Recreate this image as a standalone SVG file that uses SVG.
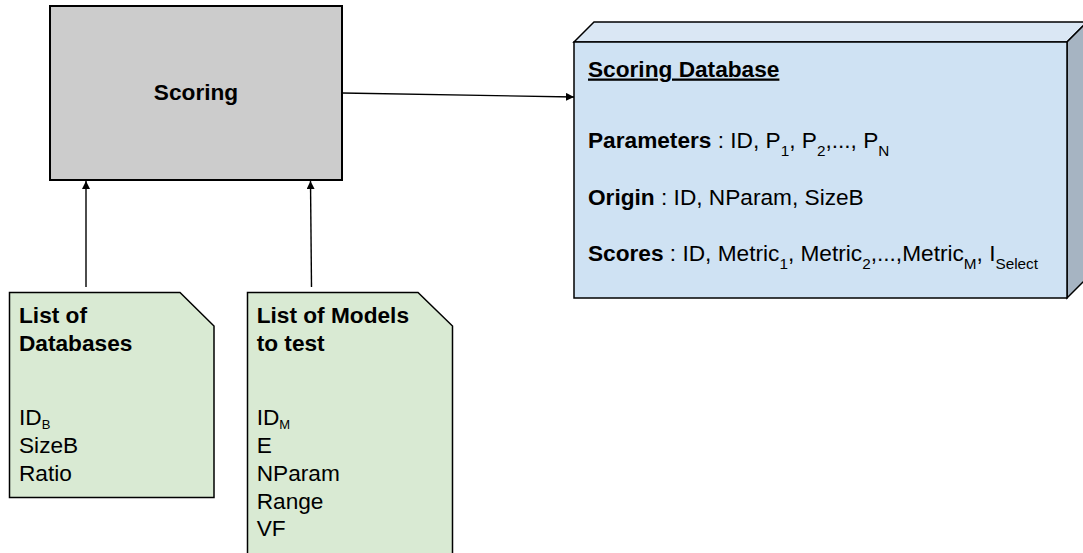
<svg xmlns="http://www.w3.org/2000/svg" width="1083" height="553" viewBox="0 0 1083 553">
<style>
text{font-family:"Liberation Sans",Arial,sans-serif;font-size:22.67px;fill:#000}
.b{font-weight:bold}
.sub{font-size:15.3px}
.sub2{font-size:13px}
.edge{stroke:#000;stroke-width:1.4;fill:none}
.doc{fill:#d9ead3;stroke:#000;stroke-width:1.5}
</style>
<defs>
<marker id="ah" viewBox="0 0 10 10" refX="10" refY="5" markerWidth="8" markerHeight="8" markerUnits="userSpaceOnUse" orient="auto">
<path d="M0,0 L10,5 L0,10 z" fill="#000"/>
</marker>
</defs>
<rect width="1083" height="553" fill="#fff"/>
<g id="connectors">
<path class="edge" d="M342,93 L574,97" marker-end="url(#ah)"/>
<path class="edge" d="M86,287 L86,181" marker-end="url(#ah)"/>
<path class="edge" d="M311.5,287 L310.5,181" marker-end="url(#ah)"/>
</g>
<g id="scoring">
<rect x="50" y="6" width="292" height="174" fill="#cccccc" stroke="#000" stroke-width="2"/>
<text class="b" x="196" y="100" text-anchor="middle">Scoring</text>
</g>
<g id="scoring-database">
<polygon points="574,42 594,22 1087,22 1067,42" fill="#dae7f4" stroke="#000" stroke-width="1.5"/>
<polygon points="1067,42 1087,22 1087,278 1067,298" fill="#a6b4c2" stroke="#000" stroke-width="1.5"/>
<rect x="574" y="42" width="493" height="256" fill="#cfe2f3" stroke="#000" stroke-width="1.5"/>
<text class="b" x="588" y="76.5" text-decoration="underline">Scoring Database</text>
<text x="588" y="148"><tspan class="b">Parameters</tspan> : ID, P<tspan class="sub" dy="8">1</tspan><tspan dy="-8">, P</tspan><tspan class="sub" dy="8">2</tspan><tspan dy="-8">,..., P</tspan><tspan class="sub" dy="8">N</tspan></text>
<text x="588" y="205"><tspan class="b">Origin</tspan> : ID, NParam, SizeB</text>
<text x="588" y="260.5"><tspan class="b">Scores</tspan> : ID, Metric<tspan class="sub" dy="8">1</tspan><tspan dy="-8">, Metric</tspan><tspan class="sub" dy="8">2</tspan><tspan dy="-8">,...,Metric</tspan><tspan class="sub" dy="8">M</tspan><tspan dy="-8">, I</tspan><tspan class="sub" dy="8">Select</tspan></text>
</g>
<g id="list-databases">
<path class="doc" d="M9.5,292.5 L180,292.5 L214,326 L214,497.5 L9.5,497.5 Z"/>
<text class="b" x="19" y="322.7">List of</text>
<text class="b" x="19" y="350.7">Databases</text>
<text x="19" y="425">ID<tspan class="sub2" dy="4">B</tspan></text>
<text x="19" y="452.7">SizeB</text>
<text x="19" y="480.7">Ratio</text>
</g>
<g id="list-models">
<path class="doc" d="M247.5,560 L247.5,292.5 L418,292.5 L452.5,326 L452.5,560"/>
<text class="b" x="256.7" y="322.7">List of Models</text>
<text class="b" x="256.7" y="350.7">to test</text>
<text x="256.7" y="425">ID<tspan class="sub2" dy="4">M</tspan></text>
<text x="256.7" y="452.7">E</text>
<text x="256.7" y="480.7">NParam</text>
<text x="256.7" y="508.5">Range</text>
<text x="256.7" y="536">VF</text>
</g>
</svg>
